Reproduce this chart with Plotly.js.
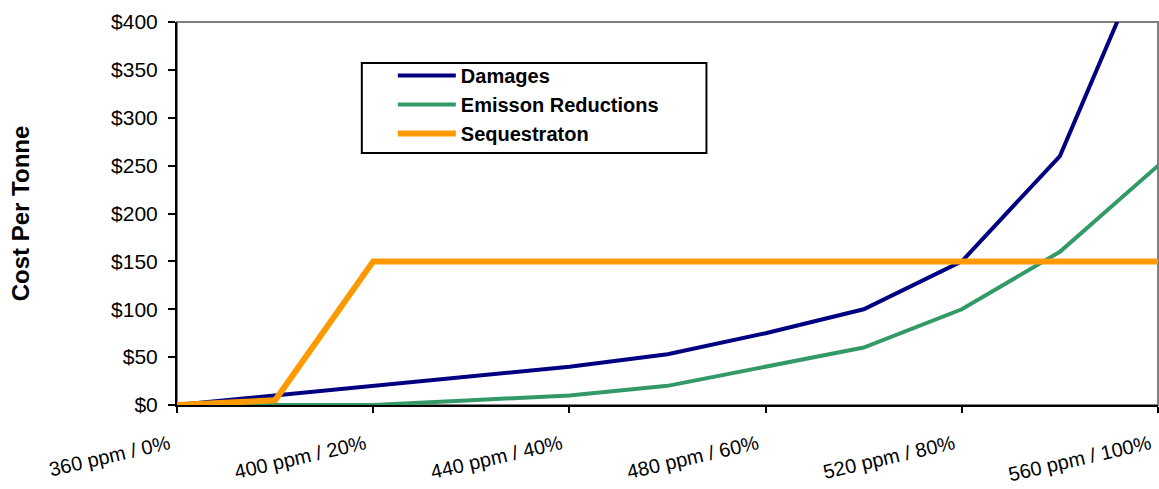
<!DOCTYPE html>
<html>
<head>
<meta charset="utf-8">
<script src="https://cdn.plot.ly/plotly-3.0.1.min.js"></script>
<style>html,body{margin:0;padding:0;background:#fff;}#chart{width:1159px;height:489px;}</style>
</head>
<body>
<div id="chart"></div>
<script>
// Half-step positions along the concentration / reduction scale
const steps = [0, 1, 2, 3, 4, 5, 6, 7, 8, 9, 10];
const tickPositions = [0, 2, 4, 6, 8, 10];
const tickLabels = ["360 ppm / 0%", "400 ppm / 20%", "440 ppm / 40%", "480 ppm / 60%", "520 ppm / 80%", "560 ppm / 100%"];

const damages = [0, 10, 20, 30, 40, 53, 75, 100, 150, 260, 500];
const emissionReductions = [0, 0, 0, 5, 10, 20, 40, 60, 100, 160, 250];
const sequestration = [0, 5, 150, 150, 150, 150, 150, 150, 150, 150, 150];

const FONT = "Liberation Sans, Arial, sans-serif";

const traces = [
  {x: steps, y: damages, name: "Damages", mode: "lines", legendgroup: "a",
   line: {color: "#000080", width: 4}},
  {x: steps, y: emissionReductions, name: "Emisson Reductions", mode: "lines", legendgroup: "b",
   line: {color: "#339966", width: 4}},
  {x: steps, y: sequestration, name: "Sequestraton", mode: "lines", legendgroup: "c",
   line: {color: "#FF9900", width: 6}}
];

const layout = {
  width: 1159, height: 489,
  margin: {l: 177, r: 1, t: 22, b: 84, pad: 0},
  paper_bgcolor: "#fff", plot_bgcolor: "#fff",
  font: {family: FONT, color: "#000", size: 20},
  showlegend: true,
  legend: {
    x: 0.22, y: 0.911, xanchor: "left", yanchor: "top",
    bgcolor: "rgba(0,0,0,0)", borderwidth: 0,
    font: {family: FONT, size: 20, color: "#000", weight: "bold"},
    traceorder: "grouped", tracegroupgap: 0, itemwidth: 58
  },
  xaxis: {
    range: [0, 10], tickmode: "array", tickvals: tickPositions, ticktext: tickLabels,
    tickangle: -13, ticks: "outside", ticklen: 6, tickcolor: "#000", tickwidth: 2,
    showline: true, linecolor: "#000", linewidth: 2, showgrid: false, zeroline: false,
    ticklabeloverflow: "allow", automargin: false, ticklabelstandoff: 12, ticklabelshift: -8,
    tickfont: {family: FONT, size: 20, color: "#000"}, fixedrange: true
  },
  yaxis: {
    range: [0, 400], dtick: 50, tickprefix: "$", ticks: "outside", ticklen: 7,
    tickcolor: "#000", tickwidth: 2, showline: true, linecolor: "#000", linewidth: 2,
    showgrid: false, zeroline: false, ticklabelstandoff: 6,
    tickfont: {family: FONT, size: 21, color: "#000"},
    title: {text: "Cost Per Tonne", font: {family: FONT, size: 24, color: "#000", weight: "bold"}, standoff: 75},
    fixedrange: true
  },
  shapes: [
    {type: "rect", xref: "paper", yref: "paper", x0: 0, x1: 1, y0: 0, y1: 1,
     line: {color: "#808080", width: 2}, layer: "below"},
    {type: "rect", xref: "paper", yref: "paper", x0: 0.1884, x1: 0.5397, y0: 0.658, y1: 0.893,
     line: {color: "#000", width: 2}, fillcolor: "#fff", layer: "below"}
  ]
};

Plotly.newPlot("chart", traces, layout, {displayModeBar: false, staticPlot: true});
</script>
</body>
</html>
